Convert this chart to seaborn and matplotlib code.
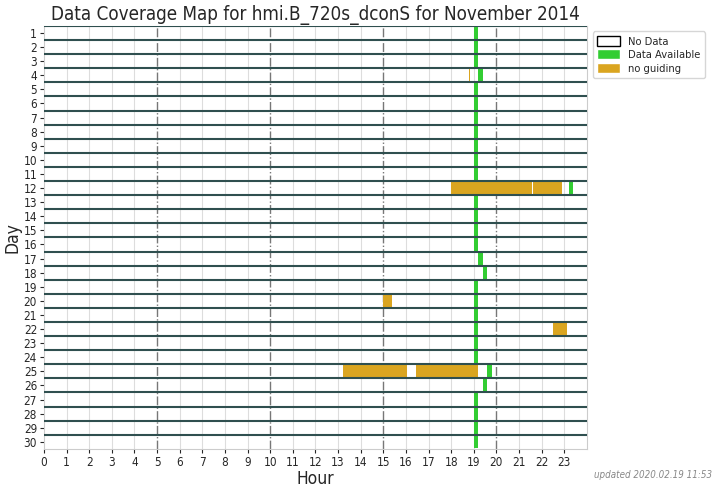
import numpy as np
import pandas as pd
import seaborn as sns
import matplotlib.pyplot as plt
from matplotlib.patches import Patch

days = list(range(1, 31))
avail_day = list(range(1, 31)) + [12]
avail_start = [19.0, 19.0, 19.0, 19.2, 19.0, 19.0, 19.0, 19.0, 19.0, 19.0,
               19.0, 19.0, 19.0, 19.0, 19.0, 19.0, 19.2, 19.4, 19.0, 19.0,
               19.0, 19.0, 19.0, 19.0, 19.6, 19.4, 19.0, 19.0, 19.0, 19.0, 23.2]
avail_len = [0.2] * 31

noguide_day = [4, 12, 12, 20, 22, 25, 25]
noguide_start = [18.78, 18.0, 21.6, 15.0, 22.5, 13.2, 16.45]
noguide_len = [0.06, 3.57, 1.3, 0.4, 0.6, 2.85, 2.72]

hours = list(range(24))

df_av = pd.DataFrame({"day": avail_day, "start": avail_start, "len": avail_len})
df_ng = pd.DataFrame({"day": noguide_day, "start": noguide_start, "len": noguide_len})

sns.set_style("white")
plt.rcParams["font.family"] = ["DejaVu Sans"]
plt.rcParams["font.stretch"] = "condensed"

fig = plt.figure(figsize=(7.21, 4.90), dpi=100)
ax = fig.add_axes([0.061, 0.084, 0.753, 0.863])

# light hour grid, darker dash-dot every 5 hours
for h in range(1, 24):
    if h % 5 == 0:
        ax.axvline(h, color="#777777", lw=1.0, ls="-.", zorder=1)
    else:
        ax.axvline(h, color="#dddddd", lw=0.8, zorder=1)

ax.barh(df_av["day"], df_av["len"], left=df_av["start"], height=0.95,
        color="limegreen", linewidth=0, zorder=2)
ax.barh(df_ng["day"], df_ng["len"], left=df_ng["start"], height=0.95,
        color="goldenrod", linewidth=0, zorder=3)

for d in days:
    ax.axhline(d - 0.5, color="#2f4f4f", lw=1.5, zorder=4)

ax.set_xlim(0, 24)
ax.set_ylim(30.5, 0.5)
ax.set_xticks(hours)
ax.set_yticks(days)
ax.tick_params(axis="both", labelsize=8.5, length=3, pad=2, left=True, bottom=True)
for s in ax.spines.values():
    s.set_color("#cccccc")
    s.set_linewidth(0.8)

ax.set_xlabel("Hour", fontsize=12.5, labelpad=1)
ax.set_ylabel("Day", fontsize=12.5, labelpad=1)
ax.set_title("Data Coverage Map for hmi.B_720s_dconS for November 2014", fontsize=13.5, pad=4)

handles = [Patch(facecolor="white", edgecolor="black", label="No Data"),
           Patch(facecolor="limegreen", label="Data Available"),
           Patch(facecolor="goldenrod", label="no guiding")]
ax.legend(handles=handles, loc="upper left", bbox_to_anchor=(1.005, 0.995),
          fontsize=8, frameon=True, borderaxespad=0.3, handlelength=2.0,
          handleheight=1.0, labelspacing=0.25)

fig.text(0.988, 0.03, "updated 2020.02.19 11:53", ha="right", va="center",
         fontsize=7, style="italic", color="#888888")

fig.savefig("out.png", dpi=100)
